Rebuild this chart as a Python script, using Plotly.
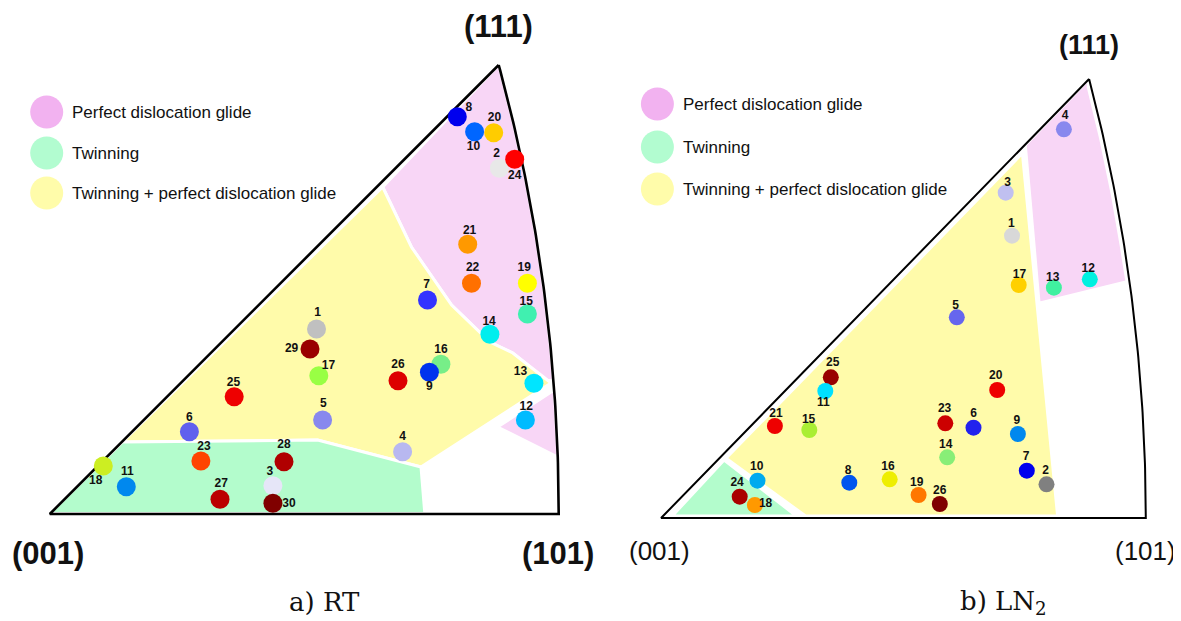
import numpy as np
import plotly.graph_objects as go

# ---------------- data (pixel frame of the figure) ----------------
# Panel a) RT
rt_ids = [8, 10, 20, 2, 24, 21, 22, 19, 7, 15, 14, 1, 29, 17, 26, 16, 9, 13, 25, 5, 12, 6, 4, 23, 28, 18, 11, 3, 27, 30]
rt_x = [457.3, 474.6, 493.7, 499.4, 514.7, 467.7, 471.5, 527.4, 427.5, 527.4, 489.9, 316.5, 310.0, 318.8, 398.0,
        440.9, 429.4, 533.9, 234.2, 322.6, 525.4, 189.4, 402.6, 200.9, 284.0, 103.3, 126.3, 272.9, 220.0, 272.9]
rt_y = [116.7, 131.7, 132.7, 168.3, 159.3, 244.3, 283.3, 283.3, 300.0, 314.0, 334.3, 329.0, 349.0, 375.7, 380.7,
        364.3, 372.3, 383.3, 396.7, 420.0, 420.0, 431.7, 451.7, 461.0, 461.7, 466.0, 486.7, 485.7, 499.3, 503.3]
rt_lab_x = [468.8, 473.4, 494.4, 496.7, 514.7, 469.6, 472.6, 524.3, 426.7, 526.2, 489.1, 317.6, 291.6, 328.4, 398.0,
            440.9, 429.4, 520.5, 233.4, 323.4, 526.2, 189.4, 402.6, 204.0, 284.0, 95.7, 127.4, 269.8, 221.2, 288.9]
rt_lab_y = [108.0, 147.0, 118.0, 154.0, 176.0, 231.0, 268.0, 268.0, 285.0, 302.0, 322.0, 313.0, 349.0, 366.0, 365.0,
            350.0, 387.0, 372.0, 383.0, 404.0, 407.0, 418.0, 437.0, 447.0, 445.0, 481.0, 472.0, 472.0, 484.0, 504.0]
rt_colors = ["#0000ee", "#0066ff", "#ffcc00", "#e8e8e8", "#ff0000", "#ff9900", "#ff7000", "#ffff00", "#3333ff",
             "#40f0b0", "#00eeee", "#c0c0c0", "#990000", "#99ff44", "#dd0000", "#77ee88", "#0033ee", "#00e5ff",
             "#ee0000", "#8888ee", "#00bbff", "#6060ee", "#b8b8f0", "#ff4400", "#b00000", "#ccee22", "#0088ee",
             "#e6e6f8", "#bb0000", "#800000"]

# Panel b) LN2
ln_ids = [4, 3, 1, 17, 13, 12, 5, 25, 11, 20, 21, 15, 23, 6, 9, 14, 7, 2, 10, 8, 16, 19, 26, 24, 18]
ln_x = [1063.9, 1005.7, 1012.0, 1018.7, 1053.9, 1089.8, 956.8, 830.8, 825.3, 997.2, 774.9, 809.3, 945.3, 973.5,
        1017.9, 947.2, 1026.8, 1046.5, 757.5, 849.3, 889.7, 918.6, 939.8, 739.7, 754.9]
ln_y = [129.3, 192.7, 235.7, 285.0, 287.7, 279.3, 317.3, 377.3, 391.0, 390.0, 426.0, 430.0, 423.3, 427.7, 434.0,
        457.3, 470.7, 484.3, 480.7, 482.7, 479.3, 495.0, 504.0, 496.7, 505.0]
ln_lab_x = [1065.0, 1007.6, 1011.3, 1019.4, 1052.8, 1088.3, 955.7, 832.7, 823.4, 995.7, 776.0, 808.6, 944.6, 973.5,
            1016.8, 945.7, 1026.1, 1045.7, 756.7, 848.2, 887.9, 916.8, 939.8, 737.1, 765.6]
ln_lab_y = [116.0, 183.0, 224.0, 275.0, 278.0, 269.0, 306.0, 363.3, 402.7, 376.0, 414.3, 420.0, 409.3, 414.3,
            420.7, 445.0, 456.7, 470.7, 466.7, 470.7, 466.7, 482.7, 491.0, 483.3, 504.0]
ln_colors = ["#8888ee", "#c0c0f0", "#d8d8d8", "#ffd000", "#40f0a0", "#00f0e0", "#6666ee", "#990000", "#00e0ff",
             "#ee0000", "#ee0000", "#aaee33", "#cc0000", "#2222ee", "#0088ee", "#88ee77", "#0000ee", "#808080",
             "#00aaee", "#0055ee", "#eeee00", "#ff7700", "#800000", "#aa0000", "#ff9900"]

# Legend
legend_labels = ["Perfect dislocation glide", "Twinning", "Twinning + perfect dislocation glide"]
legend_colors = ["#f2b2f0", "#b2fcd0", "#fffcaa"]
region_colors = ["#f8d6f6", "#b3fccc", "#fffbaa"]

# Triangle corners: (001), (101), (111)
tri_a = [(49.8, 514.0), (558.7, 514.0), (498.7, 65.0)]
tri_b = [(661.1, 518.0), (1145.8, 518.0), (1089.1, 79.0)]
corner_labels = ["(001)", "(101)", "(111)"]

# Region vertices (panel a)
a_pink_low_x = [547.3, 512.8, 489.9, 451.6, 411.4, 382.7]
a_pink_low_y = [381.0, 353.0, 342.0, 305.0, 247.0, 187.0]
a_yel_x = [382.7, 411.4, 451.6, 489.9, 512.8, 551.1, 421.0, 317.6, 122.5]
a_yel_y = [187.0, 247.0, 305.0, 342.0, 353.0, 383.0, 467.0, 440.0, 442.0]
a_pink2_x = [497.5, 554.2]
a_pink2_y = [427.0, 390.0]
a_green_x = [49.8, 122.5, 317.6, 421.0, 424.8, 49.8]
a_green_y = [513.5, 442.0, 440.0, 467.0, 513.5, 513.5]

# Region vertices (panel b)
b_pink_x = [1025.3, 1089.1]
b_pink_y = [145.0, 79.0]
b_pink_end_x = [1126.9, 1039.1]
b_pink_end_y = [281.7, 303.3]
b_yel_x = [1022.4, 1057.6, 805.6, 726.0]
b_yel_y = [153.3, 516.0, 516.0, 458.3]
b_green_x = [672.2, 724.1, 796.4]
b_green_y = [516.0, 460.0, 516.0]

# page body has an 8px margin: figure is shifted so page pixels equal data units
PAD = 8
W, H = 1181, 621


def arc_params(tri):
    (x0, yb), (x1, _), (xa, ya) = tri
    dy = yb - ya
    dx = x1 - xa
    cx = (x1 + xa) / 2 - dy ** 2 / (2 * dx)
    r = x1 - cx
    return cx, r, yb


def arc_pts(tri, y_from, y_to, n=40, off=0.0):
    cx, r, yb = arc_params(tri)
    ys = np.linspace(y_from, y_to, n)
    xs = cx + np.sqrt(r ** 2 - (yb - ys) ** 2) + off
    return list(xs), list(ys)


fig = go.Figure()


def poly(xs, ys, color, lw=3):
    fig.add_trace(go.Scatter(x=list(xs) + [xs[0]], y=list(ys) + [ys[0]], mode="lines", fill="toself",
                             fillcolor=color, line=dict(color="white", width=lw), hoverinfo="skip",
                             showlegend=False))


pink, green, yellow = region_colors

# ---- panel a regions
ax_, ay_ = arc_pts(tri_a, tri_a[2][1], 380)
poly([a_pink_low_x[-1], tri_a[2][0]] + ax_ + a_pink_low_x, [a_pink_low_y[-1], tri_a[2][1]] + ay_ + a_pink_low_y, pink)
poly(a_yel_x, a_yel_y, yellow)
px2, py2 = arc_pts(tri_a, 390, 457, n=15)
poly([a_pink2_x[0]] + px2, [a_pink2_y[0]] + py2, pink)
poly(a_green_x, a_green_y, green)

# ---- panel b regions
bx_, by_ = arc_pts(tri_b, tri_b[2][1] + 8, b_pink_end_y[0], off=-3)
poly(b_pink_x + bx_ + b_pink_end_x, b_pink_y + by_ + b_pink_end_y, pink)
poly(b_yel_x, b_yel_y, yellow)
poly(b_green_x, b_green_y, green)


# ---- triangle outlines
def outline(tri, lw):
    (x0, y0), (x1, y1), (xa, ya) = tri
    axs, ays = arc_pts(tri, y1, ya, n=80)
    xs = [xa, x0] + axs
    ys = [ya, y0] + ays
    fig.add_trace(go.Scatter(x=xs, y=ys, mode="lines", line=dict(color="black", width=lw),
                             hoverinfo="skip", showlegend=False))


outline(tri_a, 2.6)
outline(tri_b, 2.0)

# ---- grain points
fig.add_trace(go.Scatter(x=rt_x, y=rt_y, mode="markers",
                         marker=dict(size=19, color=rt_colors, line=dict(width=0)),
                         showlegend=False, hoverinfo="skip"))
fig.add_trace(go.Scatter(x=ln_x, y=ln_y, mode="markers",
                         marker=dict(size=16, color=ln_colors, line=dict(width=0)),
                         showlegend=False, hoverinfo="skip"))
numfont = dict(family="Liberation Sans Narrow, Arial Narrow, Liberation Sans, Arial", size=12, color="#111111")
fig.add_trace(go.Scatter(x=rt_lab_x, y=rt_lab_y, mode="text", text=[f"<b>{i}</b>" for i in rt_ids],
                         textposition="middle center", textfont=numfont, showlegend=False, hoverinfo="skip"))
fig.add_trace(go.Scatter(x=ln_lab_x, y=ln_lab_y, mode="text", text=[f"<b>{i}</b>" for i in ln_ids],
                         textposition="middle center", textfont=numfont, showlegend=False, hoverinfo="skip"))

# ---- legends
leg_a_y = [112, 153, 193]
leg_b_y = [104, 147, 189]
for lx, tx, lys in [(46.7, 69.7, leg_a_y), (657.4, 680.8, leg_b_y)]:
    fig.add_trace(go.Scatter(x=[lx] * 3, y=lys, mode="markers",
                             marker=dict(size=33, color=legend_colors, line=dict(width=0)),
                             showlegend=False, hoverinfo="skip"))
    for lab, yy in zip(legend_labels, lys):
        fig.add_annotation(x=tx, y=yy, text=lab, showarrow=False, xanchor="left", yanchor="middle",
                           font=dict(family="Liberation Sans, Arial", size=17, color="#111111"))

# ---- corner labels
a_lab_pos = [(47.9, 553), (557.8, 553), (498.5, 26)]
b_lab_pos = [(659.8, 551), (1145.0, 551), (1088.5, 45)]
for lab, (x, y) in zip(corner_labels, a_lab_pos):
    fig.add_annotation(x=x, y=y, text=f"<b>{lab}</b>", showarrow=False, xanchor="center", yanchor="middle",
                       font=dict(family="Liberation Sans, Arial", size=31, color="#111111"))
for i, (lab, (x, y)) in enumerate(zip(corner_labels, b_lab_pos)):
    t = f"<b>{lab}</b>" if i == 2 else lab
    fig.add_annotation(x=x, y=y, text=t, showarrow=False, xanchor="center", yanchor="middle",
                       font=dict(family="Liberation Sans, Arial", size=27 if i == 2 else 26, color="#111111"))

# ---- captions
captions = ["a) RT", "b) LN<sub>2</sub>"]
cap_pos = [(324.3, 602), (1003.9, 602)]
for c, (x, y) in zip(captions, cap_pos):
    fig.add_annotation(x=x, y=y, text=c, showarrow=False, xanchor="center", yanchor="middle",
                       font=dict(family="DejaVu Serif, Liberation Serif, serif", size=26, color="#111111"))

fig.update_layout(width=W - PAD, height=H - PAD, autosize=False, margin=dict(l=0, r=0, t=0, b=0),
                  paper_bgcolor="white", plot_bgcolor="white", showlegend=False)
fig.update_xaxes(range=[PAD, W], visible=False, fixedrange=True)
fig.update_yaxes(range=[H, PAD], visible=False, fixedrange=True)

fig.write_html("out.html")
